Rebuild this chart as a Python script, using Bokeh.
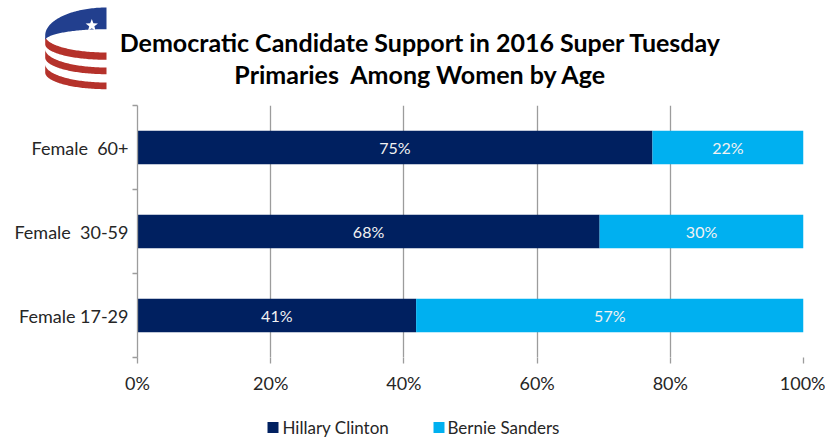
import numpy as np
from bokeh.plotting import figure
from bokeh.models import Range1d, FixedTicker, ColumnDataSource
from bokeh.core.properties import value
from bokeh.embed import file_html
from bokeh.resources import INLINE

# ---------------- data ----------------
categories = ["Female 17-29", "Female \u00a030-59", "Female \u00a060+"]
clinton = [41, 68, 75]
sanders = [57, 30, 22]
series_names = ["Hillary Clinton", "Bernie Sanders"]
x_ticks = [0, 0.2, 0.4, 0.6, 0.8, 1.0]
x_tick_labels = ["0%", "20%", "40%", "60%", "80%", "100%"]
title_lines = ["Democratic Candidate Support in 2016 Super Tuesday",
               "Primaries \u00a0Among Women by Age"]

NAVY = "#002060"
SKY = "#00B0F0"
GRID = "#9c9c9c"
FONT = "Lato"
TXT = "#262626"

W, H = 825, 439
# frame occupies page pixels x 137..803, y 105..357
p = figure(width=W, height=H, x_range=Range1d(0, 1), y_range=Range1d(-0.5, len(categories) - 0.5),
           output_backend="svg", toolbar_location=None,
           min_border_left=137, min_border_right=22, min_border_top=105, min_border_bottom=82)
p.outline_line_color = None
# pixel-space helper ranges for decorations (logo, title, legend)
p.extra_x_ranges = {"px": Range1d(137, 803)}
p.extra_y_ranges = {"px": Range1d(357, 105)}
deco = dict(x_range_name="px", y_range_name="px", level="annotation")

# ---------------- logo ----------------
xl, xr = 44.7, 106.0
rx = xr - xl
t = np.linspace(0, np.pi / 2, 60)


def lower_curve(y_left, y_right):
    ry = y_right - y_left
    return xr - rx * np.cos(t), y_left + ry * np.sin(t)


def upper_curve(y_left, y_right):
    ry = y_left - y_right
    return xr - rx * np.cos(t), y_left - ry * np.sin(t)


stripes = [((35.3, 52.0), (43.7, 59.3)),
           ((48.7, 67.0), (57.0, 73.7)),
           ((63.7, 82.0), (72.0, 88.7))]
for (a, b) in stripes:
    x1, y1 = lower_curve(*a)
    x2, y2 = lower_curve(*b)
    p.patch(np.concatenate([x1, x2[::-1]]), np.concatenate([y1, y2[::-1]]),
            fill_color="#b5322b", line_color=None, **deco)

x1, y1 = upper_curve(35.0, 7.0)
x2, y2 = upper_curve(40.0, 28.7)
p.patch(np.concatenate([x1, x2[::-1]]), np.concatenate([y1, y2[::-1]]),
        fill_color="#223f8e", line_color=None, **deco)

ang = np.pi / 2 + np.arange(10) * np.pi / 5
rad = np.where(np.arange(10) % 2 == 0, 6.5, 2.7)
p.patch(91.3 + rad * np.cos(ang), 25.0 - rad * np.sin(ang),
        fill_color="white", line_color=None, **deco)

# ---------------- title ----------------
p.text(x=[420, 420], y=[41, 73], text=title_lines, text_align="center",
       text_baseline="middle", text_font=value(FONT), text_font_style="bold",
       text_font_size="25px", text_color="#000000", **deco)

# ---------------- bars ----------------
ypos = list(range(len(categories)))
tot = [c + s for c, s in zip(clinton, sanders)]
c_share = [c / t_ for c, t_ in zip(clinton, tot)]
src = ColumnDataSource(dict(
    y=ypos,
    c_share=c_share,
    one=[1.0] * len(ypos),
    c_mid=[v / 2 for v in c_share],
    s_mid=[(v + 1) / 2 for v in c_share],
    c_lab=[f"{v}%" for v in clinton],
    s_lab=[f"{v}%" for v in sanders],
))

p.ygrid.visible = False
p.xgrid.ticker = FixedTicker(ticks=x_ticks)
p.xgrid.grid_line_color = GRID
p.xgrid.grid_line_width = 1.3

p.hbar(y="y", left=0, right="c_share", height=0.4, source=src,
       fill_color=NAVY, line_color=None)
p.hbar(y="y", left="c_share", right="one", height=0.4, source=src,
       fill_color=SKY, line_color=None)
for xm, lab in (("c_mid", "c_lab"), ("s_mid", "s_lab")):
    p.text(x=xm, y="y", text=lab, source=src, text_align="center", text_baseline="middle",
           text_font=value(FONT), text_font_size="16px", text_color="#f2f2f2")

# ---------------- axes ----------------
xa = p.xaxis[0]
xa.ticker = FixedTicker(ticks=x_ticks)
xa.major_label_overrides = {k: v for k, v in zip(x_ticks, x_tick_labels)}
xa.axis_line_color = None
xa.major_tick_in = 0
xa.major_tick_out = 6
xa.major_tick_line_color = GRID
xa.major_tick_line_width = 1.3
xa.minor_tick_line_color = None
xa.major_label_standoff = 8
xa.major_label_text_font = FONT
xa.major_label_text_font_size = "18px"
xa.major_label_text_color = TXT

ya = p.yaxis[0]
ya.ticker = FixedTicker(ticks=ypos, minor_ticks=[i - 0.5 for i in range(len(categories) + 1)])
ya.major_label_overrides = {i: c for i, c in zip(ypos, categories)}
ya.axis_line_color = GRID
ya.axis_line_width = 1.3
ya.major_tick_in = 0
ya.major_tick_out = 0
ya.minor_tick_in = 0
ya.minor_tick_out = 5
ya.minor_tick_line_color = GRID
ya.minor_tick_line_width = 1.3
ya.major_label_standoff = 4
ya.major_label_text_font = FONT
ya.major_label_text_font_size = "18px"
ya.major_label_text_color = TXT

# ---------------- legend (drawn in page pixels) ----------------
leg_x_sq = [267, 433]
leg_x_txt = [282, 447]
leg_y = 427
p.quad(left=leg_x_sq, right=[v + 11 for v in leg_x_sq],
       bottom=[leg_y + 5.5] * 2, top=[leg_y - 5.5] * 2,
       fill_color=[NAVY, SKY], line_color=None, **deco)
p.text(x=leg_x_txt, y=[leg_y] * 2, text=series_names, text_align="left", text_baseline="middle",
       text_font=value(FONT), text_font_size="17px", text_color=TXT, **deco)

open("out.html", "w").write(file_html(p, INLINE))
